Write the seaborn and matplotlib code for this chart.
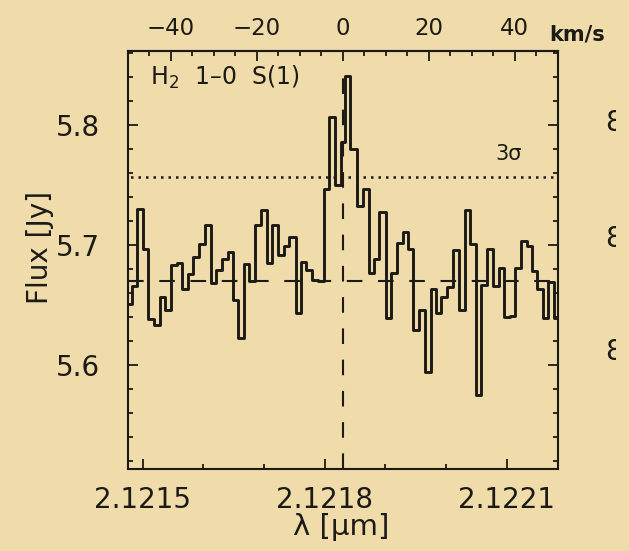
import matplotlib
matplotlib.use("Agg")
import matplotlib.pyplot as plt
from matplotlib.patches import Rectangle
from matplotlib.ticker import MultipleLocator, FixedLocator, FormatStrFormatter
import pandas as pd
import seaborn as sns

# --- constants -------------------------------------------------------------
C_KMS = 299792.458          # speed of light, km/s
LINE_WAVE = 2.12183         # H2 1-0 S(1) rest wavelength, micron
VEL_HALF_RANGE = 50.0       # plotted velocity half-width, km/s
CONTINUUM = 5.67            # continuum level, Jy
THREE_SIGMA = 5.757         # 3-sigma detection level, Jy
FLUX_RANGE = (5.513, 5.862)

# --- spectrum: bin edges (micron) and flux per bin (Jy) ---------------------
wave_edges = [
    2.1214750, 2.1214828, 2.1214906, 2.1215008, 2.1215097, 2.1215191,
    2.1215282, 2.1215378, 2.1215467, 2.1215566, 2.1215653, 2.1215757,
    2.1215839, 2.1215937, 2.1216032, 2.1216131, 2.1216214, 2.1216308,
    2.1216400, 2.1216489, 2.1216577, 2.1216664, 2.1216750, 2.1216849,
    2.1216945, 2.1217047, 2.1217133, 2.1217228, 2.1217324, 2.1217418,
    2.1217525, 2.1217608, 2.1217698, 2.1217792, 2.1217888, 2.1217984,
    2.1218078, 2.1218177, 2.1218276, 2.1218330, 2.1218424, 2.1218534,
    2.1218627, 2.1218726, 2.1218808, 2.1218902, 2.1219001, 2.1219084,
    2.1219194, 2.1219287, 2.1219376, 2.1219455, 2.1219550, 2.1219644,
    2.1219743, 2.1219826, 2.1219917, 2.1220019, 2.1220118, 2.1220210,
    2.1220304, 2.1220395, 2.1220486, 2.1220576, 2.1220679, 2.1220774,
    2.1220870, 2.1220956, 2.1221046, 2.1221137, 2.1221228, 2.1221335,
    2.1221421, 2.1221503, 2.1221586, 2.1221681, 2.1221772, 2.1221860,
]
flux = [
    5.651, 5.666, 5.730, 5.697, 5.638, 5.633, 5.657, 5.646, 5.683, 5.685,
    5.663, 5.676, 5.690, 5.701, 5.717, 5.668, 5.679, 5.688, 5.694, 5.654,
    5.622, 5.684, 5.670, 5.717, 5.729, 5.685, 5.717, 5.692, 5.699, 5.707,
    5.643, 5.686, 5.679, 5.671, 5.670, 5.747, 5.807, 5.750, 5.786, 5.841,
    5.780, 5.733, 5.747, 5.677, 5.688, 5.728, 5.639, 5.677, 5.702, 5.711,
    5.697, 5.629, 5.646, 5.594, 5.663, 5.643, 5.657, 5.665, 5.696, 5.646,
    5.729, 5.701, 5.575, 5.667, 5.697, 5.666, 5.681, 5.640, 5.641, 5.681,
    5.703, 5.699, 5.678, 5.663, 5.639, 5.669, 5.639,
]

spectrum = pd.DataFrame({"wave": wave_edges, "flux": flux + flux[-1:]})

# --- style -----------------------------------------------------------------
sns.set_theme(style="ticks")
plt.rcParams["font.family"] = ["DejaVu Sans"]
plt.rcParams["mathtext.fontset"] = "dejavusans"

PAPER = "#efdcaa"
INK = "#1c1a15"

fig = plt.figure(figsize=(6.29, 5.51), dpi=100, facecolor=PAPER)
ax = fig.add_axes([0.2035, 0.1488, 0.6834, 0.7586])
ax.set_facecolor(PAPER)

# reference levels
ax.axhline(CONTINUUM, color=INK, lw=1.5, ls=(0, (7.5, 7.5)), zorder=1)
ax.axhline(THREE_SIGMA, color=INK, lw=1.8, ls=(2, (1.0, 2.0)), zorder=1)
ax.vlines(LINE_WAVE, FLUX_RANGE[0], max(flux), color=INK, lw=1.5,
          ls=(0, (7.5, 7.5)), zorder=1)

# the spectrum as a histogram-style step line
sns.lineplot(data=spectrum, x="wave", y="flux", estimator=None, sort=False,
             drawstyle="steps-post", color=INK, linewidth=2.1, ax=ax,
             zorder=3)

ax.set_xlim(LINE_WAVE * (1 - VEL_HALF_RANGE / C_KMS),
            LINE_WAVE * (1 + VEL_HALF_RANGE / C_KMS))
ax.set_ylim(*FLUX_RANGE)
ax.set_xlabel("")
ax.set_ylabel("")

ax.xaxis.set_major_locator(FixedLocator([2.1215, 2.1218, 2.1221]))
ax.xaxis.set_minor_locator(MultipleLocator(0.0001))
ax.xaxis.set_major_formatter(FormatStrFormatter("%.4f"))
ax.yaxis.set_major_locator(MultipleLocator(0.1))
ax.yaxis.set_minor_locator(MultipleLocator(0.02))
ax.yaxis.set_major_formatter(FormatStrFormatter("%.1f"))

ax.tick_params(which="both", direction="in", top=False, right=True,
               colors=INK, labelsize=20, width=1.3)
ax.tick_params(axis="x", which="major", length=7, pad=12)
ax.tick_params(axis="y", which="major", length=7, pad=20)
ax.tick_params(which="minor", length=3.5)
for s in ax.spines.values():
    s.set_color(INK)
    s.set_linewidth(1.5)

# velocity axis along the top
sec = ax.secondary_xaxis(
    "top",
    functions=(lambda w: (w / LINE_WAVE - 1.0) * C_KMS,
               lambda v: LINE_WAVE * (1.0 + v / C_KMS)),
)
sec.set_xticks([-40, -20, 0, 20, 40])
sec.xaxis.set_minor_locator(MultipleLocator(5))
sec.tick_params(which="both", direction="in", colors=INK, labelsize=16.5,
                width=1.3, pad=8)
sec.tick_params(which="major", length=7)
sec.tick_params(which="minor", length=3.5)
sec.spines["top"].set_color(INK)
sec.spines["top"].set_linewidth(1.5)

# annotations
ax.text(0.051, 0.919, "H$_2$  1\u20130  S(1)", transform=ax.transAxes,
        fontsize=17, color=INK, va="baseline", ha="left")
ax.text(0.854, 0.739, "3\u03c3", transform=ax.transAxes, fontsize=15,
        color=INK, va="baseline", ha="left")
fig.text(549 / 629, 1 - 40 / 551, "km/s", fontsize=15, color=INK,
         va="baseline", ha="left", fontweight="bold")
fig.text(40 / 629, 1 - 248 / 551, "Flux [Jy]", rotation=90, fontsize=20,
         color=INK, ha="center", va="center")
fig.text(341 / 629, 1 - 527 / 551, "\u03bb [\u03bcm]", fontsize=21,
         color=INK, ha="center", va="center")

# tick labels of the neighbouring panel, cut off at the right edge
for ypix in (123, 239, 352):
    fig.text(605 / 629, 1 - ypix / 551, "8", fontsize=20, color=INK,
             ha="left", va="center", zorder=5)
fig.add_artist(Rectangle((615.5 / 629, 0), 1 - 615.5 / 629, 1,
                         transform=fig.transFigure, facecolor=PAPER,
                         edgecolor="none", zorder=10))

fig.savefig("out.png", dpi=100, facecolor=PAPER)
